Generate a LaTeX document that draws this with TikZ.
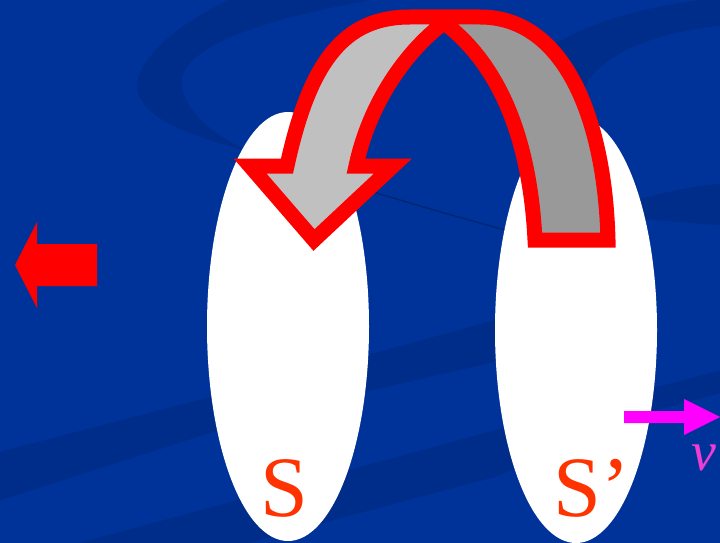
\documentclass[tikz,border=0pt]{standalone}
\usepackage{fontspec}
\setmainfont{Liberation Serif}
\usetikzlibrary{shapes.geometric}
\definecolor{bgblue}{RGB}{0,51,153}
\definecolor{swoosh}{RGB}{0,45,138}
\definecolor{swooshline}{RGB}{0,38,120}
\definecolor{lightgrey}{RGB}{192,192,192}
\definecolor{darkgrey}{RGB}{153,153,153}
\definecolor{sred}{RGB}{255,51,0}
\definecolor{vpink}{RGB}{240,60,210}
\definecolor{vmag}{RGB}{255,0,255}
\definecolor{pure red}{RGB}{255,0,0}
\tikzset{
  loop/.style={ellipse, fill=white, inner sep=0pt, minimum width=162pt},
  lbl/.style={inner sep=0pt, anchor=base, text=sred, font=\fontsize{86}{86}\selectfont},
  flat/.style={fill=pure red},
}
\begin{document}
\begin{tikzpicture}[x=1pt,y=-1pt]
\useasboundingbox (0,0) rectangle (720,543);
\clip (0,0) rectangle (720,543);
\fill[bgblue] (0,0) rectangle (720,543);
% background swooshes
\fill[swoosh] (240,-5) .. controls (170,25) and (125,70) .. (140,98)
  .. controls (155,125) and (200,138) .. (250,152)
  .. controls (225,140) and (180,115) .. (182,78)
  .. controls (190,45) and (260,18) .. (400,-5) -- cycle;
\draw[swooshline, line width=1.5pt] (245,151) .. controls (330,180) and (430,210) .. (560,245);
\fill[swoosh] (590,215) .. controls (630,200) and (680,187) .. (725,183)
  -- (725,226) .. controls (680,222) and (630,218) .. (590,215) -- cycle;
\fill[swoosh] (545,50) .. controls (590,20) and (650,5) .. (725,-3)
  -- (725,25) .. controls (650,33) and (600,55) .. (583,90) -- cycle;
\fill[swoosh] (-5,453) -- (210,397) -- (360,357) -- (495,320) -- (570,300)
  -- (570,345) -- (495,362) -- (360,393) -- (210,433) -- (-5,502) -- cycle;
\fill[swoosh] (79,543) -- (360,467) -- (495,430) -- (657,387) -- (725,369)
  -- (725,392) -- (657,410) -- (495,477) -- (360,513) -- (249,543) -- cycle;
% the two loops
\node[loop, minimum height=429pt] (loopS) at (288,326.5) {};
\node[loop, minimum height=426pt] (loopSp) at (576,330) {};
% curved arrow
\def\uarrow{(314,240) -- (250,166) -- (287,166) .. controls (310,60) and (345,17) .. (410,17)
  -- (480,17) .. controls (565,17) and (605,120) .. (608,240) -- (535,240)
  .. controls (530,140) and (500,60) .. (436,17) -- (452,17)
  .. controls (410,45) and (370,100) .. (356,166) -- (393,166) -- cycle}
\fill[lightgrey] \uarrow;
\begin{scope}
  \clip (444,0) rectangle (720,300);
  \fill[darkgrey] \uarrow;
\end{scope}
\draw[pure red, line width=15pt, line join=miter, miter limit=10] \uarrow;
% left red arrow
\fill[flat] (15,265) -- (37,222) -- (37,244) -- (97,244) -- (97,286) -- (37,286) -- (37,308) -- cycle;
% velocity arrow
\fill[vmag] (624,411) -- (684,411) -- (684,399) -- (720,417) -- (684,435) -- (684,423) -- (624,423) -- cycle;
% labels
\node[lbl] (labS) at (284,516) {S};
\node[lbl, anchor=base west] (labSp) at (553,516) {S’};
\node[inner sep=0pt, anchor=base west, text=vpink, font=\fontsize{56}{56}\selectfont\itshape] (labv) at (691,470) {v};
\end{tikzpicture}
\end{document}
